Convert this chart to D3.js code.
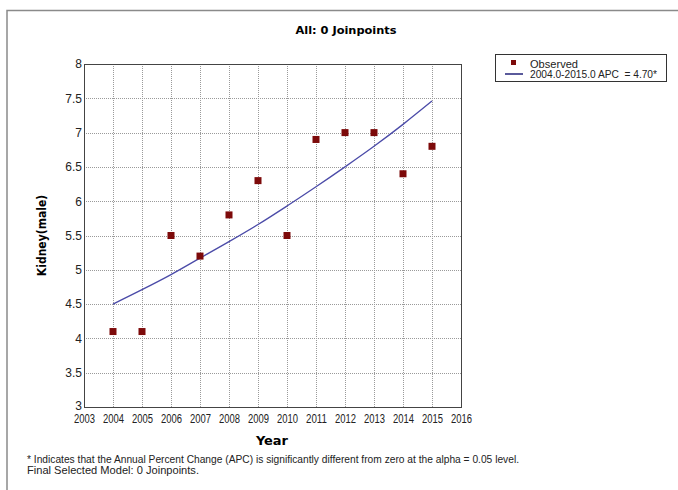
<!DOCTYPE html>
<html>
<head>
<meta charset="utf-8">
<script src="https://cdn.jsdelivr.net/npm/d3@7"></script>
<style>
  html, body { margin: 0; padding: 0; background: #fff; }
  svg { display: block; }
</style>
</head>
<body>
<svg id="chart" width="678" height="490"></svg>
<script>
// Observed rates by year
const years = [2004, 2005, 2006, 2007, 2008, 2009, 2010, 2011, 2012, 2013, 2014, 2015];
const observed = [4.1, 4.1, 5.5, 5.2, 5.8, 6.3, 5.5, 6.9, 7.0, 7.0, 6.4, 6.8];
// Modelled trend (APC = 4.70% per year)
const fitted = [4.50, 4.71, 4.93, 5.17, 5.41, 5.66, 5.93, 6.21, 6.50, 6.80, 7.12, 7.46];
// Axis ticks
const xTicks = [2003, 2004, 2005, 2006, 2007, 2008, 2009, 2010, 2011, 2012, 2013, 2014, 2015, 2016];
const yTicks = [3, 3.5, 4, 4.5, 5, 5.5, 6, 6.5, 7, 7.5, 8];
// Text
const titleText = "All: 0 Joinpoints";
const xTitle = "Year";
const yTitle = "Kidney(male)";
const legendLabels = ["Observed", "2004.0-2015.0 APC  = 4.70*"];
const notes = [
  "* Indicates that the Annual Percent Change (APC) is significantly different from zero at the alpha = 0.05 level.",
  "Final Selected Model: 0 Joinpoints."
];

const svg = d3.select("#chart");
const plot = { left: 84, right: 461, top: 64, bottom: 407 };

const x = d3.scaleLinear().domain([2003, 2016]).range([plot.left, plot.right]);
const y = d3.scaleLinear().domain([3, 8]).range([plot.bottom, plot.top]);

const sans = "'Liberation Sans', Arial, sans-serif";
const bold = "'DejaVu Sans Condensed', 'DejaVu Sans', sans-serif";

// Outer frame (top and left edges)
svg.append("path")
  .attr("d", "M7,490 V10.5 H678")
  .attr("fill", "none")
  .attr("stroke", "#8a8a8a")
  .attr("stroke-width", 1.5);

// Title
svg.append("text")
  .attr("x", 346).attr("y", 34)
  .attr("text-anchor", "middle")
  .attr("font-family", bold).attr("font-weight", "bold").attr("font-size", 11)
  .attr("textLength", 101).attr("lengthAdjust", "spacingAndGlyphs")
  .text(titleText);

// Grid lines
const grid = svg.append("g").attr("stroke", "#9a9a9a").attr("stroke-dasharray", "1,1").attr("stroke-width", 1);
grid.selectAll("line.v").data(xTicks.slice(1, -1)).join("line")
  .attr("x1", d => Math.round(x(d)) + 0.5).attr("x2", d => Math.round(x(d)) + 0.5)
  .attr("y1", plot.top).attr("y2", plot.bottom);
grid.selectAll("line.h").data(yTicks.slice(1, -1)).join("line")
  .attr("y1", d => Math.round(y(d)) + 0.5).attr("y2", d => Math.round(y(d)) + 0.5)
  .attr("x1", plot.left).attr("x2", plot.right);

// Axes
const xAxis = d3.axisBottom(x).tickValues(xTicks).tickFormat(d3.format("d")).tickSize(0).tickPadding(7);
const yAxis = d3.axisLeft(y).tickValues(yTicks).tickFormat(d => String(d)).tickSize(0).tickPadding(2);

const gx = svg.append("g").attr("transform", `translate(0,${plot.bottom})`).call(xAxis);
const gy = svg.append("g").attr("transform", `translate(${plot.left},0)`).call(yAxis);
[gx, gy].forEach(g => {
  g.select(".domain").remove();
  g.selectAll("text").attr("font-family", sans).attr("font-size", 12).attr("fill", "#222");
});
gx.selectAll("text").attr("textLength", 21).attr("lengthAdjust", "spacingAndGlyphs");
gy.selectAll("text").filter(d => d === 3).attr("dy", "0.2em");

// Plot border
svg.append("rect")
  .attr("x", plot.left + 0.5).attr("y", plot.top + 0.5)
  .attr("width", plot.right - plot.left).attr("height", plot.bottom - plot.top)
  .attr("fill", "none").attr("stroke", "#444").attr("stroke-width", 1);

// Trend line
const line = d3.line().x((d, i) => x(years[i])).y(d => y(d)).curve(d3.curveMonotoneX);
svg.append("path")
  .datum(fitted)
  .attr("d", line)
  .attr("fill", "none")
  .attr("stroke", "#4b4ba8")
  .attr("stroke-width", 1.3);

// Observed points
svg.selectAll("rect.obs").data(observed).join("rect")
  .attr("class", "obs")
  .attr("x", (d, i) => x(years[i]) - 3.5)
  .attr("y", d => y(d) - 3.5)
  .attr("width", 7).attr("height", 7)
  .attr("fill", "#7d0a0a");

// Axis titles
svg.append("text")
  .attr("x", 272).attr("y", 445)
  .attr("text-anchor", "middle")
  .attr("font-family", bold).attr("font-weight", "bold").attr("font-size", 12)
  .attr("textLength", 32).attr("lengthAdjust", "spacingAndGlyphs")
  .text(xTitle);
svg.append("text")
  .attr("transform", `translate(46,${(plot.top + plot.bottom) / 2}) rotate(-90)`)
  .attr("text-anchor", "middle")
  .attr("font-family", bold).attr("font-weight", "bold").attr("font-size", 12)
  .text(yTitle);

// Legend
const lg = svg.append("g");
lg.append("rect")
  .attr("x", 495.5).attr("y", 54.5).attr("width", 171).attr("height", 27)
  .attr("fill", "#fff").attr("stroke", "#333").attr("stroke-width", 1);
lg.append("rect").attr("x", 511).attr("y", 60).attr("width", 5).attr("height", 5).attr("fill", "#7d0a0a");
lg.append("line").attr("x1", 505).attr("x2", 523).attr("y1", 74).attr("y2", 74)
  .attr("stroke", "#23237a").attr("stroke-width", 1.5);
lg.selectAll("text").data(legendLabels).join("text")
  .attr("x", 530).attr("y", (d, i) => 67.5 + i * 10.5)
  .attr("font-family", sans).attr("font-size", 10).attr("fill", "#222")
  .style("white-space", "pre")
  .attr("textLength", (d, i) => [48, 127][i]).attr("lengthAdjust", "spacingAndGlyphs")
  .text(d => d);

// Footnotes
svg.selectAll("text.note").data(notes).join("text")
  .attr("class", "note")
  .attr("x", 27).attr("y", (d, i) => 463 + i * 11)
  .attr("font-family", sans).attr("font-size", 11).attr("fill", "#222")
  .attr("textLength", (d, i) => [492, 172][i]).attr("lengthAdjust", "spacingAndGlyphs")
  .text(d => d);
</script>
</body>
</html>
